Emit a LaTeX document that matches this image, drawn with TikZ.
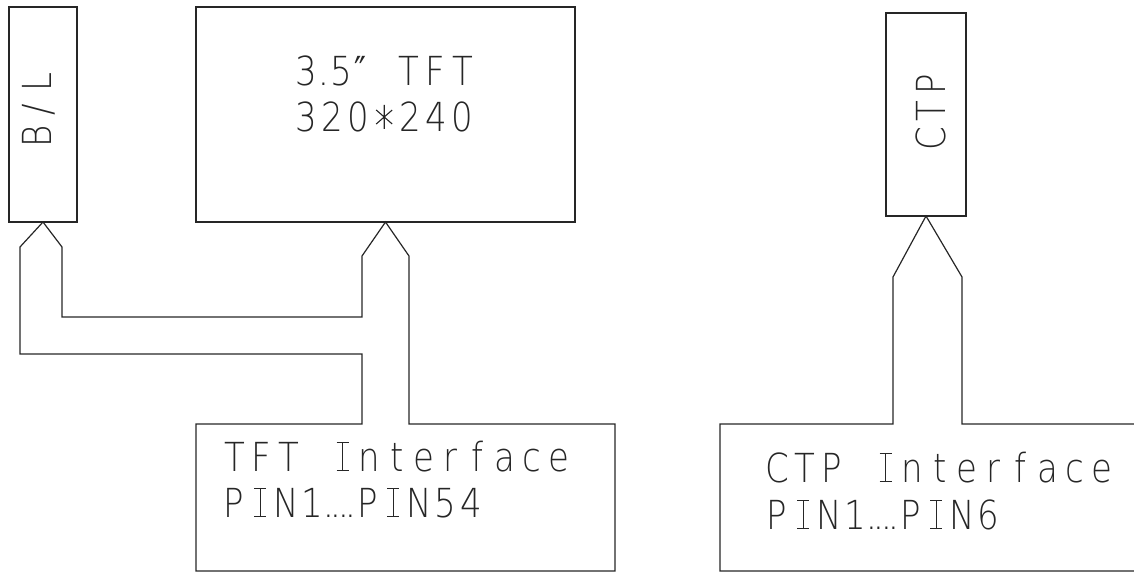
\documentclass[tikz,border=0pt]{standalone}
\usepackage{fontspec}
\usepackage{graphicx}
\newfontfamily\cadfont{DejaVu Sans ExtraLight}
\newfontfamily\dvsfont{DejaVu Sans}
\newcommand\cadI{\rlap{\rule{12pt}{1.1pt}}\rlap{\raisebox{28.1pt}{\rule{12pt}{1.1pt}}}\kern5.45pt\rule{1.1pt}{29.2pt}\kern5.45pt}
\newcommand\cadstar{\tikz[baseline=0pt]{\draw[line width=1.1pt, draw=black!85, line cap=butt]
  (9pt,3pt) -- (9pt,27pt) (1pt,8pt) -- (17pt,22pt) (1pt,22pt) -- (17pt,8pt);}}
\ExplSyntaxOn
\dim_new:N \l_cad_adv_dim
\NewDocumentCommand \cadtext { O{26pt} m }
  {
    \dim_set:Nn \l_cad_adv_dim {#1}
    \str_map_inline:nn {#2}
      {
        \str_case:nnF {##1}
          {
            {.} { \makebox[0.28\l_cad_adv_dim][c]{.} }
            {I} { \makebox[\l_cad_adv_dim][c]{\cadI} }
            {*} { \makebox[\l_cad_adv_dim][c]{\cadstar} }
            {″} { \makebox[0.5\l_cad_adv_dim][l]{\scalebox{0.8}[1]{\dvsfont ″}} }
          }
          { \makebox[\l_cad_adv_dim][c]{\scalebox{0.85}[1]{##1}} }
      }
  }
\ExplSyntaxOff
\begin{document}
\begin{tikzpicture}[x=1pt,y=-1pt,
  lineart/.style={draw=black!85, line width=1.2pt, line join=miter},
  box/.style={lineart, inner sep=0pt, outer sep=0pt, anchor=north west},
  lbl/.style={font=\cadfont\fontsize{40}{40}\selectfont, text=black!85, inner sep=0pt, anchor=base west}]
\useasboundingbox (0,0) rectangle (1134,572);
\clip (0,0) rectangle (1134,572);
% boxes
\node[box, minimum width=68pt, minimum height=215pt] (bl) at (9,7) {};
\node[box, minimum width=379pt, minimum height=215pt] (tft) at (196,7) {};
\node[box, minimum width=80pt, minimum height=203pt] (ctp) at (886,13) {};
% flex outline coordinates (TFT side)
\coordinate (blL) at (20,247);
\coordinate (blR) at (62,247);
\coordinate (tftL) at (362,256);
\coordinate (tftR) at (409,256);
\coordinate (o1) at (20,354);
\coordinate (o2) at (362,354);
\coordinate (i1) at (62,317);
\coordinate (i2) at (362,317);
\coordinate (tiL) at (362,424);
\coordinate (tiR) at (409,424);
\coordinate (tiNW) at (196,424);
\coordinate (tiSW) at (196,571);
\coordinate (tiSE) at (615,571);
\coordinate (tiNE) at (615,424);
\draw[lineart] (blL) -- (o1) -- (o2) -- (tiL) -- (tiNW) -- (tiSW) -- (tiSE) -- (tiNE)
  -- (tiR) -- (tftR) -- (tft.south) -- (tftL) -- (i2) -- (i1) -- (blR) -- (bl.south) -- cycle;
% CTP side
\coordinate (ctpL) at (893,277);
\coordinate (ctpR) at (962,277);
\coordinate (ciL) at (893,424);
\coordinate (ciR) at (962,424);
\coordinate (ciNW) at (720,424);
\coordinate (ciSW) at (720,571);
\coordinate (ciSE) at (1160,571);
\coordinate (ciNE) at (1160,424);
\draw[lineart] (ctpL) -- (ciL) -- (ciNW) -- (ciSW) -- (ciSE) -- (ciNE) -- (ciR) -- (ctpR) -- (ctp.south) -- cycle;
% texts
\node[lbl, rotate=90] (bltxt) at (51,150) {\cadtext[27pt]{B/L}};
\node[lbl, rotate=90] (ctptxt) at (945,152) {\cadtext[27pt]{CTP}};
\node[lbl] (tft1) at (293,86) {\cadtext[27pt]{3.5″ TFT}};
\node[lbl] (tft2) at (293,132) {\cadtext[26pt]{320*240}};
\node[lbl] (ti1) at (221,471) {\cadtext[27pt]{TFT Interface}};
\node[lbl] (ti2) at (221,517) {\cadtext[26pt]{PIN1....PIN54}};
\node[lbl] (ci1) at (764,482) {\cadtext[27pt]{CTP Interface}};
\node[lbl] (ci2) at (764,529) {\cadtext[26pt]{PIN1....PIN6}};
\end{tikzpicture}
\end{document}
